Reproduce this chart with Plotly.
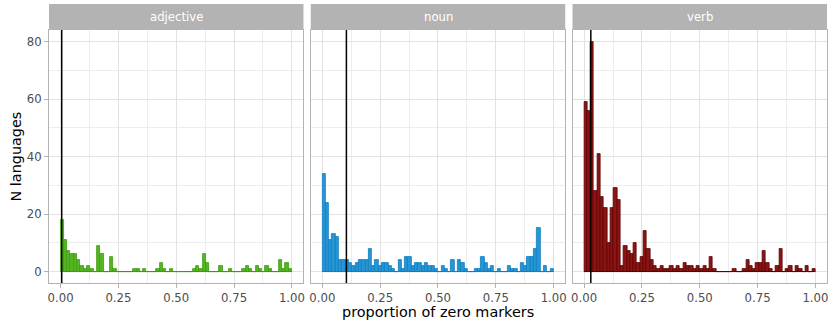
import plotly.graph_objects as go

# ---------------- data ----------------
n_bins = 70
bin_edges = [i / n_bins for i in range(n_bins + 1)]
bin_centers = [(bin_edges[i] + bin_edges[i + 1]) / 2 for i in range(n_bins)]

categories = ["adjective", "noun", "verb"]

adjective_counts = [18, 11, 7, 6, 6, 4, 2, 1, 2, 1,
                    0, 9, 6, 0, 0, 5, 1, 0, 0, 0,
                    0, 0, 1, 1, 0, 1, 0, 0, 0, 1,
                    3, 1, 0, 1, 0, 0, 0, 0, 0, 0,
                    1, 2, 1, 6, 3, 0, 0, 0, 2, 0,
                    0, 1, 0, 0, 0, 1, 2, 1, 0, 2,
                    1, 0, 2, 1, 0, 0, 4, 1, 3, 1]

noun_counts = [34, 24, 11, 13, 12, 4, 4, 4, 3, 2,
               3, 4, 4, 4, 8, 2, 4, 2, 3, 3,
               2, 1, 0, 4, 1, 5, 5, 2, 3, 3,
               2, 3, 2, 2, 1, 0, 2, 1, 0, 4,
               0, 4, 3, 1, 0, 0, 1, 1, 5, 3,
               1, 2, 0, 1, 0, 0, 2, 1, 1, 0,
               3, 2, 5, 5, 8, 15, 0, 2, 0, 1]

verb_counts = [59, 56, 80, 28, 41, 26, 22, 10, 22, 29,
               25, 2, 9, 7, 6, 10, 3, 5, 14, 8,
               4, 2, 1, 2, 1, 1, 2, 1, 2, 1,
               3, 2, 2, 1, 2, 1, 2, 1, 5, 1,
               0, 0, 0, 0, 0, 1, 0, 0, 1, 4,
               2, 1, 3, 3, 7, 3, 1, 0, 2, 8,
               0, 1, 2, 0, 2, 1, 0, 2, 0, 1]

vline_values = [0.005, 0.104, 0.029]

x_tick_vals = [0, 0.25, 0.5, 0.75, 1.0]
x_tick_text = ["0.00", "0.25", "0.50", "0.75", "1.00"]
x_minor_vals = [0.125, 0.375, 0.625, 0.875]
y_tick_vals = [0, 20, 40, 60, 80]
y_minor_vals = [10, 30, 50, 70]

fill_colors = ["#55B523", "#2796D5", "#8B1515"]
line_colors = ["#3E9B0E", "#0F7DC0", "#5A0202"]

# ---------------- layout geometry ----------------
W, H = 833, 326
ml, mr, mt, mb = 49, 6, 30, 43
plot_w = W - ml - mr
plot_h = H - mt - mb
gap = 7.3
pw = (plot_w - 2 * gap) / 3
strip_h = 26

FONT = "DejaVu Sans, Verdana, sans-serif"
GRID = "#E2E2E2"
GRID_MINOR = "#EDEDED"
BORDER = "#B3B3B3"

fig = go.Figure()
all_counts = [adjective_counts, noun_counts, verb_counts]
shapes = []
annotations = []

for i, cat in enumerate(categories):
    sx = "" if i == 0 else str(i + 1)
    xa, ya = "x" + sx, "y" + sx
    fig.add_trace(go.Bar(
        x=bin_centers, y=all_counts[i], width=1 / n_bins,
        marker=dict(color=fill_colors[i], line=dict(color=line_colors[i], width=0.8)),
        xaxis=xa, yaxis=ya, showlegend=False, hoverinfo="x+y",
    ))
    d0 = i * (pw + gap) / plot_w
    d1 = (i * (pw + gap) + pw) / plot_w
    fig.layout["xaxis" + sx] = dict(
        domain=[d0, d1], range=[-0.05, 1.05], anchor=ya,
        tickvals=x_tick_vals, ticktext=x_tick_text,
        ticks="outside", ticklen=4, tickcolor=BORDER, tickwidth=1,
        tickfont=dict(family=FONT, size=11.7, color="#4D4D4D"),
        showgrid=True, gridcolor=GRID, gridwidth=1,
        minor=dict(tickvals=x_minor_vals, showgrid=True, gridcolor=GRID_MINOR, gridwidth=1, ticks=""),
        showline=True, mirror=True, linecolor=BORDER, linewidth=1,
        zeroline=False, fixedrange=True,
    )
    ydict = dict(
        domain=[0, 1], range=[-4, 84], anchor=xa,
        tickvals=y_tick_vals,
        showgrid=True, gridcolor=GRID, gridwidth=1,
        minor=dict(tickvals=y_minor_vals, showgrid=True, gridcolor=GRID_MINOR, gridwidth=1, ticks=""),
        showline=True, mirror=True, linecolor=BORDER, linewidth=1,
        zeroline=False, fixedrange=True,
    )
    if i == 0:
        ydict.update(ticks="outside", ticklen=4, tickcolor=BORDER, tickwidth=1,
                     tickfont=dict(family=FONT, size=11.7, color="#4D4D4D"))
    else:
        ydict.update(matches="y", showticklabels=False, ticks="")
    fig.layout["yaxis" + sx] = ydict

    # baseline for empty bins (ggplot draws zero-height bars as flat outlines)
    shapes.append(dict(type="line", xref=xa, yref=ya, x0=bin_edges[0], x1=bin_edges[-1],
                       y0=0, y1=0, line=dict(color=line_colors[i], width=1), layer="above"))
    # vertical reference line
    shapes.append(dict(type="line", xref=xa, yref=ya + " domain", x0=vline_values[i], x1=vline_values[i],
                       y0=0, y1=1, line=dict(color="black", width=1.5), layer="above"))
    # strip
    shapes.append(dict(type="rect", xref=xa + " domain", yref="paper", x0=0, x1=1,
                       y0=1, y1=1 + strip_h / plot_h, fillcolor=BORDER, line=dict(width=0), layer="above"))
    annotations.append(dict(xref=xa + " domain", yref="paper", x=0.5, y=1 + (strip_h / 2) / plot_h,
                            text=cat, showarrow=False, xanchor="center", yanchor="middle",
                            font=dict(family=FONT, size=11.7, color="white")))

annotations.append(dict(xref="paper", yref="paper", x=0.5, y=((H - mb) - 312) / plot_h,
                        text="proportion of zero markers", showarrow=False,
                        xanchor="center", yanchor="middle",
                        font=dict(family=FONT, size=14.4, color="black")))
annotations.append(dict(xref="paper", yref="paper", x=(15 - ml) / plot_w, y=0.5,
                        text="N languages", showarrow=False, textangle=-90,
                        xanchor="center", yanchor="middle",
                        font=dict(family=FONT, size=14.4, color="black")))

fig.update_layout(
    width=W, height=H,
    margin=dict(l=ml, r=mr, t=mt, b=mb, pad=0),
    paper_bgcolor="white", plot_bgcolor="white",
    shapes=shapes, annotations=annotations,
    bargap=0, showlegend=False,
    font=dict(family=FONT),
)

fig.write_html(
    "out.html",
    config={"displayModeBar": False},
    post_script="document.body.style.margin='0';document.body.style.padding='0';"
                "document.documentElement.style.overflow='hidden';",
)
